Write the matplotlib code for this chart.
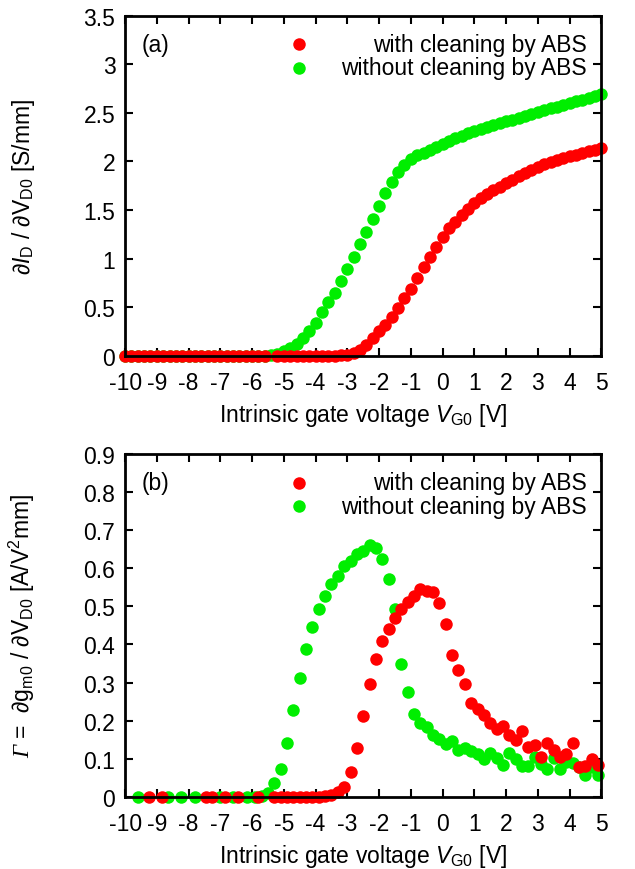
import numpy as np
import matplotlib
matplotlib.use("Agg")
import matplotlib.pyplot as plt
from matplotlib.ticker import FormatStrFormatter

plt.rcParams['font.family'] = ['Liberation Sans', 'DejaVu Sans']
plt.rcParams['mathtext.fontset'] = 'custom'
plt.rcParams['mathtext.rm'] = 'Liberation Sans'
plt.rcParams['mathtext.it'] = 'Liberation Sans:italic'
plt.rcParams['mathtext.sf'] = 'Liberation Serif:italic'
plt.rcParams['axes.unicode_minus'] = False

RED = '#ff0000'
GREEN = '#00ee00'
labels = ['with cleaning by ABS', 'without cleaning by ABS']

# (a) dI_D/dV_D0, sampled every 0.2 V
xa = [-10.0, -9.8, -9.6, -9.4, -9.2, -9.0, -8.8, -8.6, -8.4, -8.2,
      -8.0, -7.8, -7.6, -7.4, -7.2, -7.0, -6.8, -6.6, -6.4, -6.2,
      -6.0, -5.8, -5.6, -5.4, -5.2, -5.0, -4.8, -4.6, -4.4, -4.2,
      -4.0, -3.8, -3.6, -3.4, -3.2, -3.0, -2.8, -2.6, -2.4, -2.2,
      -2.0, -1.8, -1.6, -1.4, -1.2, -1.0, -0.8, -0.6, -0.4, -0.2,
      0.0, 0.2, 0.4, 0.6, 0.8, 1.0, 1.2, 1.4, 1.6, 1.8,
      2.0, 2.2, 2.4, 2.6, 2.8, 3.0, 3.2, 3.4, 3.6, 3.8,
      4.0, 4.2, 4.4, 4.6, 4.8, 5.0]
ya_red = [0, 0, 0, 0, 0, 0, 0, 0, 0, 0,
          0, 0, 0, 0, 0, 0, 0, 0, 0, 0,
          0, 0, 0, np.nan, 0, 0, 0, 0, 0, 0,
          0, 0, 0, 0, 0.003, 0.01, 0.03, 0.06, 0.11, 0.18,
          0.25, 0.32, 0.40, 0.49, 0.59, 0.69, 0.80, 0.91, 1.02, 1.12,
          1.22, 1.31, 1.38, 1.45, 1.51, 1.57, 1.62, 1.66, 1.70, 1.74,
          1.78, 1.81, 1.85, 1.88, 1.91, 1.94, 1.97, 1.99, 2.01, 2.03,
          2.05, 2.07, 2.09, 2.11, 2.12, 2.14]
ya_green = [0, 0, 0, 0, 0, 0, 0, 0, 0, 0,
            0, 0, 0, 0, 0, 0, 0, 0, 0, 0,
            0, 0, 0, 0.005, 0.02, 0.045, 0.08, 0.125, 0.18, 0.25,
            0.34, 0.45, 0.55, 0.65, 0.77, 0.89, 1.02, 1.15, 1.27, 1.41,
            1.54, 1.67, 1.79, 1.89, 1.96, 2.02, 2.06, 2.09, 2.12, 2.15,
            2.18, 2.21, 2.24, 2.26, 2.29, 2.31, 2.33, 2.35, 2.37, 2.39,
            2.41, 2.43, 2.45, 2.47, 2.49, 2.51, 2.53, 2.55, 2.56, 2.58,
            2.60, 2.62, 2.63, 2.65, 2.67, 2.69]

# (b) Gamma = dg_m0/dV_D0
xb_red = [-9.25, -8.85, -7.45, -7.25, -6.85, -6.45, -5.8,
          -5.3, -5.1, -4.9, -4.7, -4.5, -4.3, -4.1, -3.9, -3.7, -3.5,
          -3.3, -3.1, -2.9, -2.7, -2.5, -2.3, -2.1, -1.9, -1.7, -1.5,
          -1.3, -1.1, -0.9, -0.7, -0.5, -0.3, -0.1, 0.1, 0.3, 0.5,
          0.7, 0.9, 1.1, 1.3, 1.5, 1.7, 1.9, 2.1, 2.3, 2.5,
          2.7, 2.9, 3.1, 3.3, 3.5, 3.7, 3.9, 4.1, 4.3, 4.5,
          4.7, 4.9]
yb_red = [0, 0, 0, 0, 0, 0, 0,
          0, 0, 0, 0, 0, 0, 0, 0, 0.002, 0.005,
          0.012, 0.027, 0.065, 0.127, 0.212, 0.297, 0.361, 0.408, 0.440, 0.469,
          0.493, 0.512, 0.528, 0.546, 0.541, 0.537, 0.509, 0.454, 0.371, 0.333,
          0.295, 0.245, 0.231, 0.214, 0.194, 0.179, 0.185, 0.162, 0.150, 0.172,
          0.132, 0.137, 0.105, 0.142, 0.122, 0.104, 0.112, 0.142, 0.079, 0.080,
          0.100, 0.083]
xb_green = [-9.6, -8.65, -8.25, -7.8, -7.0, -6.6, -6.15, -5.9,
            -5.7, -5.5, -5.3, -5.1, -4.9, -4.7, -4.5, -4.3, -4.1, -3.9,
            -3.7, -3.5, -3.3, -3.1, -2.9, -2.7, -2.5, -2.3, -2.1, -1.9,
            -1.7, -1.5, -1.3, -1.1, -0.9, -0.7, -0.5, -0.3, -0.1, 0.1,
            0.3, 0.5, 0.7, 0.9, 1.1, 1.3, 1.5, 1.7, 1.9, 2.1,
            2.3, 2.5, 2.7, 2.9, 3.1, 3.3, 3.5, 3.7, 3.9, 4.1,
            4.3, 4.5, 4.7, 4.9]
yb_green = [0, 0, 0, 0, 0, 0, 0, 0,
            0.003, 0.011, 0.035, 0.073, 0.141, 0.227, 0.312, 0.387, 0.445, 0.492,
            0.527, 0.558, 0.581, 0.606, 0.618, 0.637, 0.646, 0.660, 0.653, 0.625,
            0.572, 0.493, 0.348, 0.276, 0.218, 0.195, 0.182, 0.162, 0.153, 0.139,
            0.146, 0.122, 0.128, 0.121, 0.113, 0.099, 0.116, 0.103, 0.084, 0.114,
            0.099, 0.081, 0.081, 0.104, 0.085, 0.074, 0.103, 0.074, 0.092, 0.090,
            0.079, 0.056, 0.079, 0.057]

xticks = list(range(-10, 6))
yticks_a = [0, 0.5, 1, 1.5, 2, 2.5, 3, 3.5]
yticks_b = [0, 0.1, 0.2, 0.3, 0.4, 0.5, 0.6, 0.7, 0.8, 0.9]

FS = 16.5
MS = 9

fig = plt.figure(figsize=(6.35, 8.7), dpi=100)
ax1 = fig.add_axes([0.197, 0.590, 0.750, 0.391])
ax2 = fig.add_axes([0.197, 0.083, 0.750, 0.394])


def style(ax, yticks, ymax):
  ax.set_xlim(-10, 5)
  ax.set_ylim(0, ymax)
  ax.set_xticks(xticks)
  ax.set_yticks(yticks)
  ax.yaxis.set_major_formatter(FormatStrFormatter('%g'))
  ax.tick_params(direction='in', length=6, width=1.5, top=True, right=True,
                 labelsize=FS, pad=7)
  ax.tick_params(axis='x', pad=11)
  for s in ax.spines.values():
    s.set_linewidth(2)
    s.set_zorder(5)
  ax.set_xlabel(r'Intrinsic gate voltage $V_{\rm G0}$ [V]', fontsize=FS, labelpad=5)


def legend(ax, tag):
  ax.text(0.035, 0.916, tag, transform=ax.transAxes, fontsize=FS, va='center')
  for i, (lab, c) in enumerate(zip(labels, [RED, GREEN])):
    yy = 0.916 - i * 0.069
    ax.plot([0.365], [yy], 'o', color=c, ms=MS, mec='none', transform=ax.transAxes)
    ax.text(0.969, yy, lab, transform=ax.transAxes, fontsize=FS, va='center', ha='right')


ax1.plot(xa, ya_green, 'o', color=GREEN, ms=MS, mec='none', clip_on=False, zorder=3)
ax1.plot(xa, ya_red, 'o', color=RED, ms=MS, mec='none', clip_on=False, zorder=4)
style(ax1, yticks_a, 3.5)
ax1.set_ylabel(r'∂$I_{\rm D}$ / ∂V$_{\rm D0}$ [S/mm]', fontsize=FS)
ax1.yaxis.set_label_coords(-0.185, 0.5)
legend(ax1, '(a)')

ax2.plot(xb_green, yb_green, 'o', color=GREEN, ms=MS, mec='none', clip_on=False, zorder=3)
ax2.plot(xb_red, yb_red, 'o', color=RED, ms=MS, mec='none', clip_on=False, zorder=4)
style(ax2, yticks_b, 0.9)
ax2.set_ylabel(r'$\mathsf{\Gamma}$ =  ∂g$_{\rm m0}$ / ∂V$_{\rm D0}$ [A/V$^2$mm]', fontsize=FS)
ax2.yaxis.set_label_coords(-0.185, 0.5)
legend(ax2, '(b)')

plt.savefig('out.png', dpi=100)
